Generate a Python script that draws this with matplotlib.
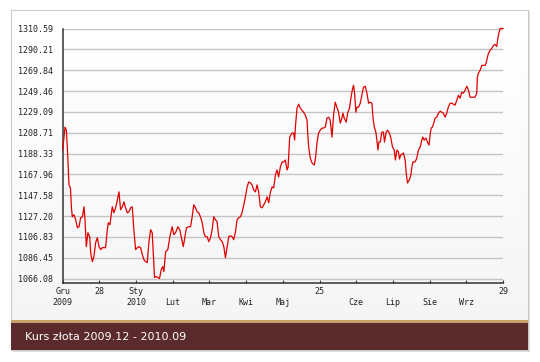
import matplotlib
import matplotlib.pyplot as plt
import numpy as np
from matplotlib.patches import Rectangle

matplotlib.use("agg")

# Gold price, Dec 2009 - Sep 2010 (days since 1 Dec 2009, price)
days = [
    0, 1.6, 2.5, 3.2, 4.3, 5.3, 6.0, 6.6, 7.7, 8.9, 10.1, 11.2, 12.3, 13.5, 14.6, 15.3,
    16.2, 17.3, 18.5, 19.2, 20.3, 21.4, 22.6, 23.8, 24.9, 26.0, 27.2, 29.4, 30.6, 31.3,
    32.4, 33.3, 34.0, 35.1, 36.3, 37.5, 38.6, 39.7, 40.9, 42.0, 43.1, 44.3, 45.4, 46.6,
    47.7, 48.8, 50.0, 51.2, 52.3, 53.4, 54.6, 55.7, 56.8, 58.0, 59.1, 60.3, 61.4, 62.1,
    63.0, 64.2, 65.3, 66.4, 67.6, 68.7, 69.4, 70.6, 72.1, 73.5, 75.1, 76.2, 77.4, 79.0,
    80.3, 81.3, 82.7, 83.5, 84.9, 86.5, 87.7, 88.8, 89.9, 91.1, 92.2, 93.3, 94.5, 95.7,
    96.8, 97.9, 99.1, 100.2, 101.4, 102.5, 103.6, 104.8, 105.9, 107.0, 108.2, 109.4,
    110.5, 111.6, 112.8, 113.9, 115.0, 116.2, 117.3, 118.5, 119.6, 120.7, 121.9, 123.0,
    124.2, 125.3, 126.5, 127.6, 128.7, 129.9, 131.0, 132.2, 133.3, 134.4, 135.6, 136.8,
    137.9, 139.0, 140.2, 141.3, 142.4, 143.6, 144.7, 145.9, 147.0, 148.1, 149.3, 150.5,
    151.5, 152.7, 153.9, 154.6, 155.7, 157.3, 158.4, 159.1, 159.6, 160.7, 161.8, 163.0,
    164.1, 165.2, 166.4, 167.6, 168.0, 168.7, 169.8, 171.0, 172.6, 173.5, 174.4, 175.5,
    176.7, 177.8, 178.9, 180.1, 181.3, 182.4, 183.5, 184.7, 185.8, 186.9, 188.1, 189.2,
    190.4, 191.5, 192.2, 193.1, 194.5, 195.4, 196.7, 197.7, 198.6, 199.5, 200.2, 201.1,
    201.8, 202.9, 204.1, 205.2, 206.3, 207.5, 208.7, 209.8, 210.9, 212.1, 212.8, 213.7,
    214.8, 215.5, 216.2, 216.9, 217.8, 218.9, 220.0, 220.7, 221.9, 222.8, 224.1, 225.1,
    226.2, 227.4, 228.2, 229.2, 230.3, 231.0, 231.9, 233.7, 234.9, 235.6, 236.5, 237.8,
    238.8, 239.5, 240.2, 241.7, 242.9, 244.0, 245.2, 246.3, 247.0, 247.9, 249.1, 250.2,
    251.3, 252.0, 252.7, 253.6, 254.7, 255.4, 256.6, 257.7, 258.9, 260.0, 261.1, 262.3,
    263.4, 264.5, 265.7, 266.9, 268.0, 269.1, 270.3, 271.4, 272.6, 273.7, 274.8, 276.0,
    277.1, 277.8, 278.7, 279.4, 280.6, 281.7, 282.8, 284.0, 284.4, 285.1, 286.3, 287.5,
    288.5, 289.7, 290.4, 291.3, 292.0, 293.1, 294.3, 295.4, 296.5, 297.7, 298.8, 299.5,
    300.0, 302.0,
]
prices = [
    1191.75, 1214.16, 1211.23, 1193.70, 1157.65, 1154.73, 1135.25, 1126.48, 1128.43,
    1123.56, 1115.76, 1116.74, 1125.50, 1126.48, 1136.22, 1123.56, 1097.25, 1110.89,
    1106.99, 1091.41, 1082.64, 1087.51, 1101.15, 1106.02, 1097.25, 1094.33, 1096.28,
    1096.28, 1113.81, 1120.63, 1118.68, 1128.43, 1136.22, 1130.38, 1135.25, 1143.04,
    1150.83, 1133.30, 1136.22, 1141.09, 1135.25, 1130.38, 1131.35, 1135.25, 1136.22,
    1113.81, 1094.33, 1096.28, 1097.25, 1096.28, 1089.46, 1084.59, 1082.64, 1081.67,
    1101.15, 1113.81, 1110.89, 1091.41, 1067.05, 1068.03, 1067.05, 1066.08, 1074.85,
    1077.77, 1072.90, 1092.38, 1094.33, 1106.99, 1116.74, 1108.94, 1110.89, 1116.74,
    1113.81, 1106.99, 1097.25, 1104.07, 1115.76, 1116.74, 1116.74, 1126.48, 1138.17,
    1135.25, 1131.35, 1130.38, 1126.48, 1120.63, 1110.89, 1106.99, 1106.99, 1102.12,
    1106.02, 1113.81, 1126.48, 1123.56, 1121.61, 1106.99, 1104.07, 1102.12, 1097.25,
    1086.54, 1097.25, 1106.99, 1107.97, 1106.99, 1104.07, 1111.87, 1123.56, 1125.50,
    1126.48, 1130.38, 1138.17, 1145.96, 1155.70, 1160.58, 1159.60, 1157.65, 1152.78,
    1150.83, 1157.65, 1150.83, 1136.22, 1135.25, 1138.17, 1141.09, 1145.96, 1140.12,
    1149.86, 1155.70, 1154.73, 1167.39, 1172.27, 1165.45, 1175.19, 1180.06, 1180.06,
    1182.01, 1172.27, 1175.19, 1204.41, 1208.31, 1208.31, 1201.49, 1214.16, 1232.67,
    1236.56, 1232.67, 1230.72, 1228.77, 1225.85, 1220.98, 1209.29, 1194.67, 1183.96,
    1179.09, 1177.14, 1184.93, 1198.57, 1208.31, 1211.23, 1213.18, 1213.18, 1214.16,
    1222.92, 1223.90, 1220.98, 1204.41, 1225.85, 1238.51, 1233.64, 1228.77, 1218.05,
    1222.92, 1227.80, 1222.92, 1219.03, 1227.80, 1232.67, 1242.41, 1250.20, 1255.07,
    1247.28, 1228.77, 1233.64, 1233.64, 1237.54, 1245.33, 1253.12, 1254.10, 1247.28,
    1237.54, 1238.51, 1237.54, 1223.90, 1214.16, 1209.29, 1201.49, 1191.75, 1199.54,
    1199.54, 1209.29, 1209.29, 1199.54, 1209.29, 1211.23, 1208.31, 1203.44, 1194.67,
    1191.75, 1182.01, 1191.75, 1189.80, 1182.98, 1186.88, 1188.83, 1182.01, 1169.34,
    1159.60, 1162.52, 1167.39, 1175.19, 1180.06, 1180.06, 1183.96, 1191.75, 1194.67,
    1201.49, 1204.41, 1201.49, 1203.44, 1199.54, 1196.62, 1206.36, 1213.18, 1214.16,
    1219.03, 1222.92, 1223.90, 1227.80, 1229.74, 1228.77, 1227.80, 1223.90, 1227.80,
    1233.64, 1237.54, 1237.54, 1236.56, 1235.59, 1240.46, 1245.33, 1242.41, 1248.25,
    1247.28, 1250.20, 1254.10, 1252.15, 1248.25, 1243.38, 1243.38, 1243.38, 1243.38,
    1247.28, 1262.87, 1266.76, 1269.69, 1274.56, 1274.56, 1274.56, 1276.51, 1282.35,
    1286.25, 1289.17, 1291.12, 1294.04, 1295.02, 1293.07, 1303.78, 1307.68, 1310.59,
    1310.59,
]

y_ticks = [1066.08, 1086.45, 1106.83, 1127.20, 1147.58, 1167.96, 1188.33,
           1208.71, 1229.09, 1249.46, 1269.84, 1290.21, 1310.59]
x_top_labels = ["Gru", "28", "Sty", "", "", "", "", "25", "", "", "", "", "29"]
x_bottom_labels = ["2009", "", "2010", "Lut", "Mar", "Kwi", "Maj", "", "Cze", "Lip", "Sie", "Wrz", ""]
title = "Kurs złota 2009.12 - 2010.09"

W, H = 540, 362
fig = plt.figure(figsize=(W / 100, H / 100), dpi=100)
fig.patch.set_facecolor("white")

# Card shadow (own axes so it sits under the card body)
sh = fig.add_axes([12.5 / W, 1 - 352 / H, 517 / W, 341 / H], zorder=-2)
sh.set_facecolor("#e2e2e2")
sh.set_xticks([])
sh.set_yticks([])
for s in sh.spines.values():
    s.set_visible(False)

# Card body with soft vertical gradient
bg = fig.add_axes([11 / W, 1 - 350 / H, 517 / W, 340 / H], zorder=-1)
bg.imshow(np.linspace(1.0, 0.955, 100).reshape(-1, 1), cmap="gray", vmin=0, vmax=1,
          aspect="auto", extent=(0, 1, 0, 1))
bg.set_xticks([])
bg.set_yticks([])
for s in bg.spines.values():
    s.set_color("#c9c9c9")
    s.set_linewidth(0.8)

# Footer band
bg.add_patch(Rectangle((0, 0), 1, 27.5 / 340, transform=bg.transAxes,
                       facecolor="#5b2a2c", edgecolor="none", zorder=5))
bg.add_patch(Rectangle((0, 27.5 / 340), 1, 2.5 / 340, transform=bg.transAxes,
                       facecolor="#c9a06a", edgecolor="none", zorder=5))
fig.text(25 / W, 1 - 337 / H, title, color="white", fontsize=8, va="center", ha="left",
         family="DejaVu Sans", zorder=6)

# Chart
ax = fig.add_axes([62.7 / W, 1 - 282.5 / H, 440.3 / W, 254 / H], zorder=2)
ax.patch.set_alpha(0)
ax.plot(days, prices, color="#e00000", linewidth=0.9, zorder=3, clip_on=False)

ax.set_xlim(0, 302)
ax.set_ylim(1062.2, 1310.59)
ax.set_yticks(y_ticks)
ax.set_yticklabels([f"{v:.2f}" for v in y_ticks])
ax.grid(axis="y", color="#c4c4c4", linewidth=1.0, zorder=1)

x_pos = [302 / 12 * k for k in range(13)]
ax.set_xticks(x_pos)
ax.set_xticklabels([f"{a}\n{b}" for a, b in zip(x_top_labels, x_bottom_labels)],
                   linespacing=1.35)

ax.spines[["top", "right"]].set_visible(False)
for side in ["left", "bottom"]:
    ax.spines[side].set_color("#333333")
    ax.spines[side].set_linewidth(1.1)

ax.tick_params(axis="y", length=0, pad=7, labelsize=6, labelcolor="#222222")
ax.tick_params(axis="x", direction="in", length=2.5, width=0.8, color="#333333",
               pad=3, labelsize=6, labelcolor="#222222")
for lbl in ax.get_xticklabels() + ax.get_yticklabels():
    lbl.set_family("DejaVu Sans Mono")

fig.savefig("out.png", dpi=100, facecolor="white")
